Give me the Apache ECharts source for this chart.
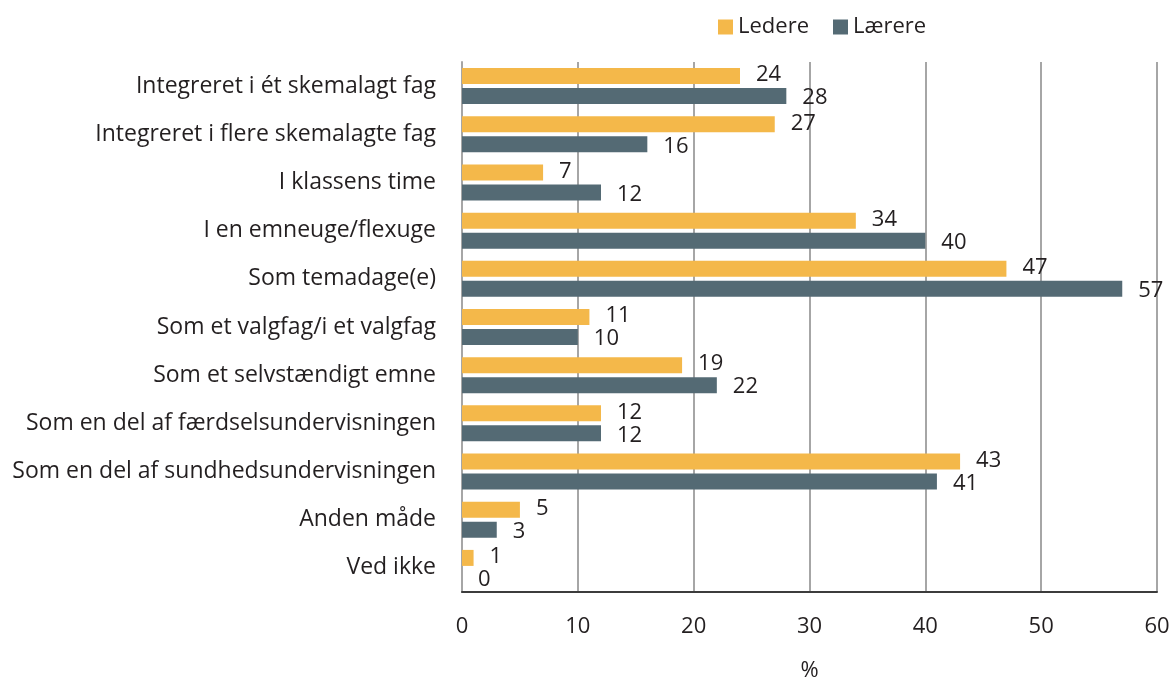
<!DOCTYPE html>
<html>
<head>
<meta charset="utf-8">
<script src="https://cdn.jsdelivr.net/npm/echarts@6/dist/echarts.min.js"></script>
<style>
  html, body { margin: 0; padding: 0; background: #fff; }
  #chart { width: 1173px; height: 682px; }
</style>
</head>
<body>
<div id="chart"></div>
<script>
  var chart = echarts.init(document.getElementById('chart'));

  // kategorier (fra top til bund)
  let categories = [
    'Integreret i ét skemalagt fag',
    'Integreret i flere skemalagte fag',
    'I klassens time',
    'I en emneuge/flexuge',
    'Som temadage(e)',
    'Som et valgfag/i et valgfag',
    'Som et selvstændigt emne',
    'Som en del af færdselsundervisningen',
    'Som en del af sundhedsundervisningen',
    'Anden måde',
    'Ved ikke'
  ];
  // værdier i %
  let ledere = [24, 27, 7, 34, 47, 11, 19, 12, 43, 5, 1];
  let laerere = [28, 16, 12, 40, 57, 10, 22, 12, 41, 3, 0];
  let xTicks = [0, 10, 20, 30, 40, 50, 60];

  let font = 'Open Sans';
  let textColor = '#231f20';

  let option = {
    backgroundColor: '#fff',
    textStyle: { fontFamily: font, color: textColor },
    legend: {
      top: 11,
      left: 713,
      itemWidth: 15,
      itemHeight: 15,
      itemGap: 24,
      icon: 'rect',
      textStyle: { fontFamily: font, fontSize: 22, color: textColor },
      data: ['Ledere', 'Lærere']
    },
    grid: {
      left: 462,
      right: 16,
      top: 62,
      bottom: 90,
      containLabel: false,
      outerBoundsMode: 'none'
    },
    xAxis: {
      type: 'value',
      min: xTicks[0],
      max: xTicks[xTicks.length - 1],
      interval: 10,
      name: '%',
      nameLocation: 'middle',
      nameGap: 68,
      nameTextStyle: { fontFamily: font, fontSize: 22, color: textColor },
      axisLine: { show: true, lineStyle: { color: '#3c3c3c', width: 2 } },
      axisTick: { show: false },
      axisLabel: { fontFamily: font, fontSize: 22, color: textColor, margin: 24 },
      splitLine: { show: true, lineStyle: { color: '#a6a6a6', width: 2 } }
    },
    yAxis: {
      type: 'category',
      inverse: true,
      data: categories,
      axisLine: { show: true, lineStyle: { color: '#a6a6a6', width: 2 } },
      axisTick: { show: false },
      axisLabel: { fontFamily: font, fontSize: 23, color: textColor, margin: 26 }
    },
    series: [
      {
        name: 'Ledere',
        type: 'bar',
        data: ledere,
        barWidth: 16,
        barGap: '25%',
        itemStyle: { color: '#f4b84a' },
        label: {
          show: true,
          position: 'right',
          distance: 16,
          offset: [0, -1],
          fontFamily: font,
          fontSize: 22,
          color: textColor
        }
      },
      {
        name: 'Lærere',
        type: 'bar',
        data: laerere,
        barWidth: 16,
        itemStyle: { color: '#546a74' },
        label: {
          show: true,
          position: 'right',
          distance: 16,
          offset: [0, 2],
          fontFamily: font,
          fontSize: 22,
          color: textColor
        }
      }
    ]
  };
  chart.setOption(option);
</script>
</body>
</html>
